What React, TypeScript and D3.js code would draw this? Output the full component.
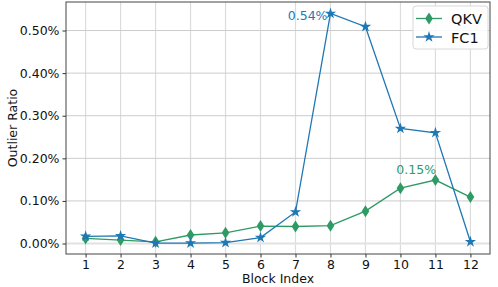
import * as d3 from "d3";
import { useEffect, useRef } from "react";

const blocks = [1, 2, 3, 4, 5, 6, 7, 8, 9, 10, 11, 12];
const qkv = [0.012, 0.008, 0.004, 0.02, 0.025, 0.041, 0.04, 0.042, 0.076, 0.13, 0.149, 0.109];
const fc1 = [0.017, 0.018, 0.001, 0.001, 0.002, 0.014, 0.074, 0.54, 0.509, 0.27, 0.26, 0.004];
const yTicks = [0, 0.1, 0.2, 0.3, 0.4, 0.5];

const width = 498;
const height = 287;
const marginLeft = 66;
const marginRight = 8;
const marginTop = 2;
const marginBottom = 33;

const GREEN = "#2e9a64";
const BLUE = "#1f77b4";
const FONT = "DejaVu Sans, sans-serif";
const FS = 12.5;

// thin diamond like matplotlib "d"
const diamond = (s: number) =>
  `M0,${-s / 2}L${s * 0.32},0L0,${s / 2}L${-s * 0.32},0Z`;

export default function App() {
  const gx = useRef<SVGGElement>(null);
  const gy = useRef<SVGGElement>(null);

  const x = d3.scaleLinear([0.44, 12.56], [marginLeft, width - marginRight]);
  const y = d3.scaleLinear([-0.0246, 0.567], [height - marginBottom, marginTop]);
  const star = d3.symbol(d3.symbolStar, 40)() || "";

  useEffect(() => {
    const ax = d3.select(gx.current!);
    ax.call(d3.axisBottom(x).tickValues(blocks).tickFormat(d3.format("d")).tickSize(3.5).tickPadding(3));
    ax.select(".domain").remove();
    ax.selectAll("text").attr("font-size", FS).attr("font-family", FONT).attr("fill", "#111");
    ax.selectAll("line").attr("stroke", "#333");
    const ay = d3.select(gy.current!);
    ay.call(d3.axisLeft(y).tickValues(yTicks).tickFormat((d) => (d as number).toFixed(2) + "%").tickSize(3.5).tickPadding(3));
    ay.select(".domain").remove();
    ay.selectAll("text").attr("font-size", FS).attr("font-family", FONT).attr("fill", "#111");
    ay.selectAll("line").attr("stroke", "#333");
  }, []);

  const line = d3.line<number>((_, i) => x(blocks[i]), (d) => y(d));
  const x0 = marginLeft;
  const x1 = width - marginRight;
  const y0 = marginTop;
  const y1 = height - marginBottom;

  return (
    <svg width={width} height={height} style={{ position: "absolute", left: 0, top: 0 }}>
      <rect width={width} height={height} fill="white" />
      <g>
        {blocks.map((b) => (
          <line key={b} x1={x(b)} x2={x(b)} y1={y0} y2={y1} stroke="#dcdcdc" strokeWidth={1.2} />
        ))}
        {yTicks.map((t) => (
          <line key={t} x1={x0} x2={x1} y1={y(t)} y2={y(t)} stroke={t === 0 ? "#e2e2e2" : "#cccccc"} strokeWidth={t === 0 ? 2 : 1} />
        ))}
      </g>
      <path d={line(qkv) || undefined} fill="none" stroke={GREEN} strokeWidth={1.3} />
      {qkv.map((d, i) => (
        <path key={i} d={diamond(12)} transform={`translate(${x(blocks[i])},${y(d)})`} fill={GREEN} />
      ))}
      <path d={line(fc1) || undefined} fill="none" stroke={BLUE} strokeWidth={1.3} />
      {fc1.map((d, i) => (
        <path key={i} d={star} transform={`translate(${x(blocks[i])},${y(d)})`} fill={BLUE} />
      ))}
      <text x={x(8) - 3} y={y(0.54) + 6} textAnchor="end" fill={BLUE} fontSize={FS} fontFamily={FONT}>0.54%</text>
      <text x={x(10.45)} y={y(0.149) - 6} textAnchor="middle" fill={GREEN} fontSize={FS} fontFamily={FONT}>0.15%</text>
      <rect x={x0} y={y0} width={x1 - x0} height={y1 - y0} fill="none" stroke="#444" strokeWidth={1} />
      <g transform="translate(413,6)">
        <rect width={75} height={43} rx={3} fill="white" fillOpacity={0.85} stroke="#d8d8d8" />
        <line x1={3} x2={29} y1={12.5} y2={12.5} stroke={GREEN} strokeWidth={1.3} />
        <path d={diamond(12)} transform="translate(16,12.5)" fill={GREEN} />
        <text x={38} y={18} fontSize={14.5} fontFamily={FONT} fill="#111">QKV</text>
        <line x1={3} x2={29} y1={31} y2={31} stroke={BLUE} strokeWidth={1.3} />
        <path d={star} transform="translate(16,31)" fill={BLUE} />
        <text x={38} y={36.5} fontSize={14.5} fontFamily={FONT} fill="#111">FC1</text>
      </g>
      <g ref={gx} transform={`translate(0,${y1})`} />
      <g ref={gy} transform={`translate(${x0},0)`} />
      <text x={(x0 + x1) / 2} y={283} textAnchor="middle" fontSize={FS} fontFamily={FONT} fill="#111">Block Index</text>
      <text transform={`translate(17,${(y0 + y1) / 2}) rotate(-90)`} textAnchor="middle" fontSize={FS} fontFamily={FONT} fill="#111">Outlier Ratio</text>
    </svg>
  );
}
